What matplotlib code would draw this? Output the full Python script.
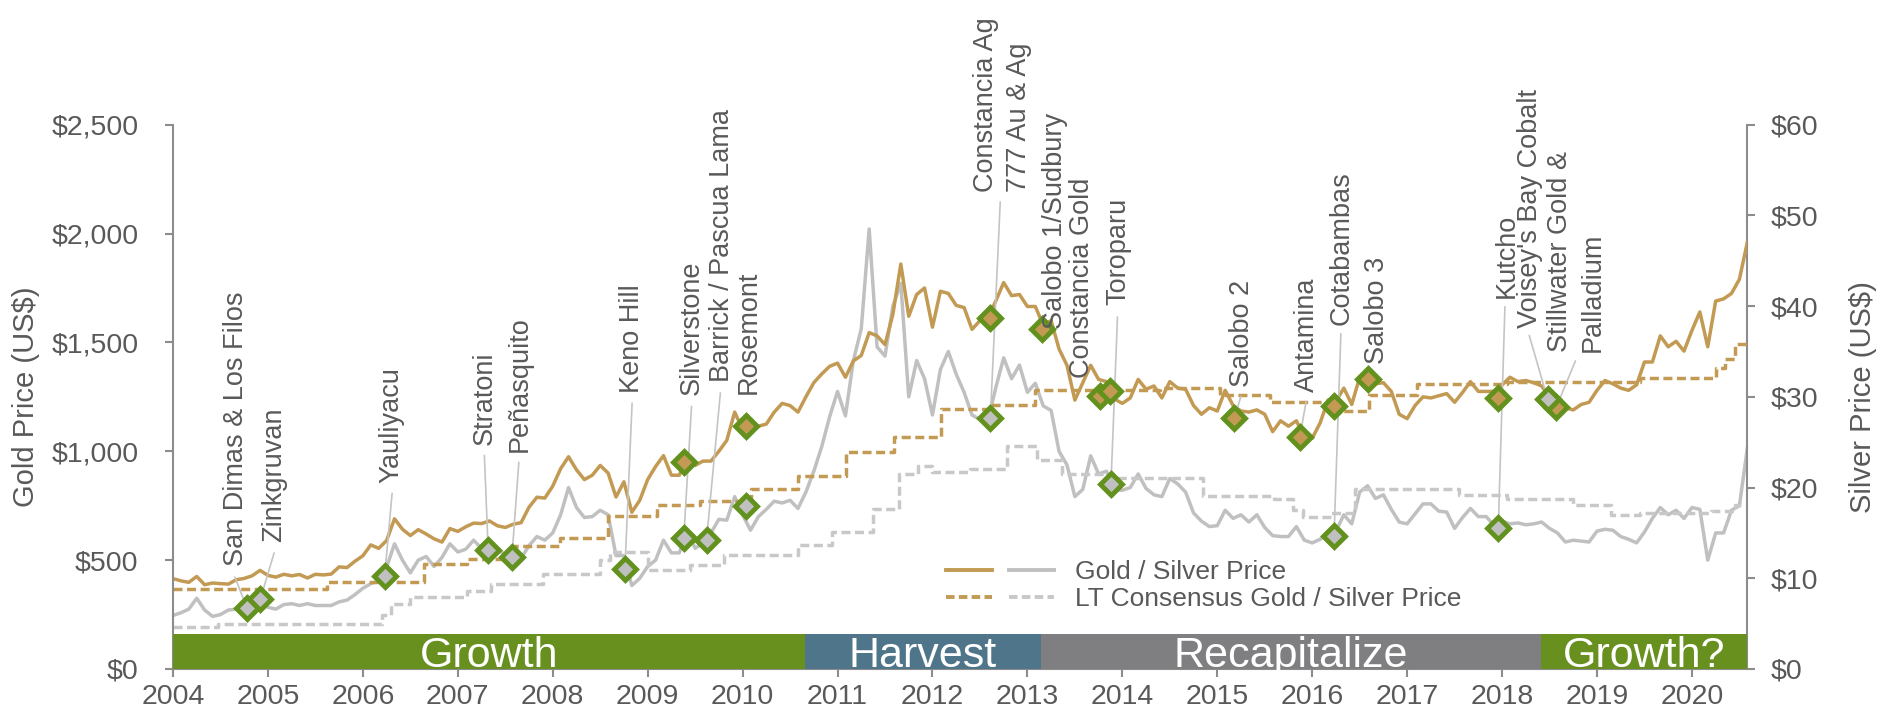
import numpy as np
import matplotlib
matplotlib.use("Agg")
import matplotlib.pyplot as plt
from matplotlib.lines import Line2D
from matplotlib.legend_handler import HandlerTuple

plt.rcParams['font.family'] = ['Liberation Sans', 'DejaVu Sans']

# monthly gold price (US$/oz), Jan 2004 .. Aug 2020
gold_price = [
    415, 405, 398, 425, 387, 395, 392, 390, 410, 416, 428, 453,
    430, 422, 435, 428, 434, 418, 435, 432, 436, 469, 466, 495,
    520, 570, 554, 590, 690, 642, 613, 640, 620, 598, 583, 645,
    632, 653, 670, 668, 680, 658, 650, 665, 672, 743, 789, 785,
    840, 920, 975, 915, 870, 890, 935, 900, 790, 860, 720, 775,
    870, 930, 980, 890, 890, 980, 935, 955, 955, 1000, 1050, 1180,
    1100, 1100, 1115, 1125, 1180, 1220, 1210, 1180, 1250, 1315, 1355, 1390,
    1405, 1340, 1415, 1440, 1545, 1530, 1490, 1630, 1860, 1620, 1720, 1750,
    1570, 1735, 1725, 1670, 1660, 1560, 1600, 1610, 1690, 1775, 1715, 1720,
    1665, 1665, 1580, 1600, 1470, 1395, 1235, 1315, 1395, 1330, 1320, 1240,
    1220, 1245, 1330, 1285, 1300, 1245, 1320, 1290, 1285, 1210, 1170, 1200,
    1185, 1280, 1210, 1185, 1180, 1190, 1170, 1090, 1140, 1115, 1140, 1065,
    1060, 1130, 1235, 1230, 1290, 1215, 1340, 1350, 1310, 1315, 1275, 1170,
    1150, 1210, 1250, 1245, 1255, 1265, 1225, 1270, 1320, 1275, 1275, 1275,
    1305, 1340, 1320, 1325, 1315, 1300, 1250, 1220, 1200, 1190, 1215, 1225,
    1280, 1325, 1310, 1290, 1280, 1305, 1410, 1410, 1530, 1480, 1505, 1460,
    1555, 1640, 1480, 1690, 1700, 1725, 1790, 1960,
]

# monthly silver price (US$/oz), Jan 2004 .. Aug 2020
silver_price = [
    5.9, 6.2, 6.6, 7.8, 6.5, 5.8, 6.0, 6.5, 6.6, 6.7, 7.2, 7.4,
    6.8, 6.6, 7.1, 7.2, 7.0, 7.2, 7.0, 7.0, 7.0, 7.4, 7.6, 8.2,
    8.9, 9.4, 9.7, 11.2, 13.8, 12.0, 10.6, 12.0, 12.4, 11.3, 12.3, 13.8,
    12.9, 13.2, 14.2, 13.3, 13.6, 13.2, 12.6, 13.2, 12.2, 13.6, 14.6, 14.2,
    15.0, 17.0, 20.0, 17.8, 16.7, 16.8, 17.5, 17.0, 12.5, 12.5, 9.2, 10.0,
    11.3, 12.0, 14.2, 12.8, 12.8, 15.4, 13.3, 13.9, 15.0, 16.5, 16.4, 19.0,
    17.0, 15.3, 16.8, 17.6, 18.5, 18.3, 18.6, 17.7, 19.5, 21.8, 24.5, 27.8,
    30.6, 27.9, 34.0, 37.5, 48.5, 35.5, 34.5, 40.0, 42.5, 30.0, 34.0, 32.0,
    28.0, 33.0, 35.0, 32.5, 30.5, 28.0, 27.5, 27.3, 31.0, 34.3, 32.0, 33.5,
    30.5, 31.5, 29.0, 28.5, 24.0, 22.5, 19.0, 19.8, 23.5, 21.5, 21.8, 19.8,
    19.7, 20.0, 21.5, 19.9, 19.2, 19.0, 21.0, 20.4, 19.5, 17.2, 16.3, 15.7,
    15.8, 17.5, 16.6, 17.0, 16.2, 17.0, 15.6, 14.7, 14.6, 14.6, 15.7, 14.2,
    13.9, 14.3, 14.9, 15.2, 17.0, 16.0, 19.5, 20.2, 18.8, 19.2, 17.6, 16.2,
    16.0, 17.1, 18.2, 18.2, 17.4, 17.3, 15.5, 16.7, 17.7, 16.8, 16.8, 15.8,
    16.3, 16.0, 16.1, 15.9, 16.0, 16.2, 15.5, 15.0, 14.0, 14.2, 14.1, 14.0,
    15.2, 15.4, 15.3, 14.6, 14.3, 13.9, 15.1, 16.6, 17.8, 17.0, 17.5, 16.6,
    17.8, 17.6, 12.0, 15.0, 15.0, 17.5, 18.0, 24.3,
]

months = 2004 + np.arange(len(gold_price)) / 12

# long-term consensus prices (step changes)
gold_lt_start = [2004.0, 2005.62, 2006.64, 2007.10, 2007.60, 2008.08, 2008.58, 2009.10,
                 2009.55, 2010.09, 2010.58, 2011.09, 2011.60, 2012.09, 2012.60, 2013.08,
                 2014.40, 2015.03, 2015.56, 2016.30, 2016.60, 2017.10, 2018.05, 2019.45,
                 2020.25, 2020.35, 2020.45, 2020.58]
gold_lt_value = [368, 398, 484, 507, 565, 603, 701, 752, 771, 828, 887, 997, 1066, 1193,
                 1212, 1283, 1291, 1260, 1226, 1185, 1260, 1307, 1318, 1337, 1384, 1424,
                 1493, 1493]

silver_lt_start = [2004.0, 2004.47, 2006.20, 2006.30, 2006.50, 2007.10, 2007.35, 2007.90,
                   2008.50, 2008.60, 2009.00, 2009.45, 2009.80, 2010.58, 2010.94, 2011.37,
                   2011.65, 2011.85, 2012.00, 2012.40, 2012.78, 2013.10, 2013.36, 2013.90,
                   2014.85, 2015.60, 2015.80, 2015.90, 2016.20, 2016.45, 2017.55, 2018.05,
                   2018.75, 2019.15, 2019.45, 2020.20, 2020.45, 2020.58]
silver_lt_value = [4.6, 5.0, 6.0, 7.2, 7.9, 8.6, 9.4, 10.5, 12.0, 12.9, 10.9, 11.5, 12.6,
                   13.7, 15.1, 17.6, 21.5, 22.4, 21.7, 22.0, 24.6, 23.0, 21.5, 21.0, 19.1,
                   18.7, 17.5, 16.8, 17.2, 19.8, 19.2, 18.7, 18.1, 17.0, 17.2, 17.4, 18.1,
                   18.1]

# stream deals
gold_deal_date = [2009.38, 2010.04, 2012.61, 2013.15, 2013.77, 2013.87, 2015.18, 2015.87,
                  2016.23, 2016.59, 2017.96, 2018.57]
gold_deal_price = [949, 1117, 1612, 1563, 1252, 1275, 1151, 1066, 1209, 1330, 1245, 1202]
silver_deal_date = [2004.78, 2004.92, 2006.23, 2007.32, 2007.57, 2008.76, 2009.38, 2009.62,
                    2010.04, 2012.61, 2013.88, 2016.23, 2017.96, 2018.48]
silver_deal_price = [6.70, 7.68, 10.30, 13.10, 12.34, 10.97, 14.40, 14.21, 17.95, 27.70,
                     20.35, 14.71, 15.53, 29.76]

deal_labels = ['San Dimas & Los Filos', 'Zinkgruvan', 'Yauliyacu', 'Stratoni', 'Peñasquito',
               'Keno Hill', 'Silverstone', 'Barrick / Pascua Lama', 'Rosemont',
               'Constancia Ag', '777 Au & Ag', 'Salobo 1/Sudbury', 'Constancia Gold',
               'Toroparu', 'Salobo 2', 'Antamina', 'Cotabambas', 'Salobo 3', 'Kutcho',
               "Voisey's Bay Cobalt", 'Stillwater Gold &', 'Palladium']
label_x = [2004.66, 2005.06, 2006.30, 2007.28, 2007.65, 2008.835, 2009.46, 2009.78, 2010.06,
           2012.56, 2012.91, 2013.295, 2013.575, 2013.96, 2015.26, 2015.945, 2016.31,
           2016.68, 2018.045, 2018.295, 2018.605, 2018.955]
label_y = [473, 583, 854, 1027, 997, 1268, 1258, 1320, 1265, 2191, 2191, 1562, 1337, 1672,
           1293, 1270, 1582, 1401, 1702, 1566, 1456, 1456]

# leader lines: top point (gold axis units) -> deal marker
leader_top_x = [2004.652, 2005.065, 2006.308, 2007.280, 2007.643, 2008.836, 2009.462,
                2009.766, 2012.714, 2013.949, 2015.249, 2015.936, 2016.302, 2018.030,
                2018.286, 2018.773]
leader_top_y = [422, 533, 807, 981, 949, 1221, 1206, 1268, 2145, 1617, 1252, 1229, 1540,
                1664, 1532, 1415]
leader_target = [('s', 0), ('s', 1), ('s', 2), ('s', 3), ('s', 4), ('s', 5), ('s', 6),
                 ('s', 7), ('s', 9), ('s', 10), ('g', 6), ('g', 7), ('s', 11), ('s', 12),
                 ('s', 13), ('g', 11)]

phases = ['Growth', 'Harvest', 'Recapitalize', 'Growth?']
phase_start = [2004.0, 2010.66, 2013.14, 2018.41]
phase_end = [2010.66, 2013.14, 2018.41, 2020.58]
phase_colors = ['#68901F', '#4E7589', '#7F7F82', '#68901F']

gold_c = '#C29A53'
silver_c = '#C0C0C0'
silver_lt_c = '#C8C8C8'
green = '#63911D'
text_c = '#595959'
axis_c = '#8C8C8C'

fig = plt.figure(figsize=(18.81, 7.18), dpi=100)
ax = fig.add_axes([0.09197, 0.06825, 0.83679, 0.75807])
ax2 = ax.twinx()
ax.set_zorder(ax2.get_zorder() + 1)
ax.patch.set_visible(False)

ax2.plot(months, silver_price, color=silver_c, lw=2.5)
ax2.plot(silver_lt_start, silver_lt_value, drawstyle='steps-post', color=silver_lt_c,
         lw=2.5, dashes=(2.6, 1.3))
ax.plot(months, gold_price, color=gold_c, lw=2.5)
ax.plot(gold_lt_start, gold_lt_value, drawstyle='steps-post', color=gold_c,
        lw=2.5, dashes=(2.6, 1.3))

# phase bands
for name, s, e, c in zip(phases, phase_start, phase_end, phase_colors):
    ax.bar(s, 160, width=e - s, align='edge', color=c, linewidth=0, zorder=3)
    ax.text((s + e) / 2, 10, name, color='white', fontsize=31, ha='center',
            va='baseline', zorder=4)

# leader lines
for tx, ty, (kind, i) in zip(leader_top_x, leader_top_y, leader_target):
    if kind == 's':
        xy = (silver_deal_date[i], silver_deal_price[i])
        xyc = ax2.transData
    else:
        xy = (gold_deal_date[i], gold_deal_price[i])
        xyc = 'data'
    ax.annotate('', xy=xy, xycoords=xyc, xytext=(tx, ty), textcoords='data',
                arrowprops=dict(arrowstyle='-', color='#C4C4C4', lw=1.2,
                                shrinkA=0, shrinkB=0), zorder=5)

# deal markers
ax.plot(gold_deal_date, gold_deal_price, ls='none', marker='D', ms=11, mfc=gold_c,
        mec=green, mew=3.5, zorder=6)
ax.plot(silver_deal_date, silver_deal_price, ls='none', marker='D', ms=11, mfc=silver_c,
        mec=green, mew=3.5, zorder=6, transform=ax2.transData)

for lbl, x, y in zip(deal_labels, label_x, label_y):
    ax.text(x, y, lbl, rotation=90, ha='center', va='bottom', fontsize=19.5,
            color=text_c, zorder=7)

# axes
ax.set_xlim(2004, 2020.58)
ax.set_ylim(0, 2500)
ax2.set_ylim(0, 60)
ax.set_xticks(range(2004, 2021))
ax.set_xticklabels([str(y) for y in range(2004, 2021)])
ax.set_yticks(range(0, 2501, 500))
ax.set_yticklabels([f'${v:,}' for v in range(0, 2501, 500)])
ax2.set_yticks(range(0, 61, 10))
ax2.set_yticklabels([f'${v}' for v in range(0, 61, 10)])

for a in (ax, ax2):
    for sp in a.spines.values():
        sp.set_color(axis_c)
        sp.set_linewidth(1.5)
    a.spines['top'].set_visible(False)
ax.spines['right'].set_visible(False)
ax2.spines['left'].set_visible(False)
ax2.spines['bottom'].set_visible(False)

ax.tick_params(axis='y', direction='out', length=6, width=1.5, color=axis_c,
               labelsize=20.5, labelcolor=text_c, pad=19)
ax.tick_params(axis='x', direction='out', length=6, width=1.5, color=axis_c,
               labelsize=20.5, labelcolor=text_c, pad=5)
ax2.tick_params(axis='y', direction='out', length=6, width=1.5, color=axis_c,
                labelsize=20.5, labelcolor=text_c, pad=11)

ax.set_ylabel('Gold Price (US$)', fontsize=21, color=text_c)
ax.yaxis.set_label_coords(-0.0842, 0.5)
ax2.set_ylabel('Silver Price (US$)', fontsize=21, color=text_c)
ax2.yaxis.set_label_coords(1.0651, 0.5)

# legend
g_solid = Line2D([], [], color=gold_c, lw=2.8)
s_solid = Line2D([], [], color=silver_c, lw=2.8)
g_dash = Line2D([], [], color=gold_c, lw=2.8, dashes=(2.2, 1.1))
s_dash = Line2D([], [], color=silver_lt_c, lw=2.8, dashes=(2.2, 1.1))
ax.legend([(g_solid, s_solid), (g_dash, s_dash)],
          ['Gold / Silver Price', 'LT Consensus Gold / Silver Price'],
          handler_map={tuple: HandlerTuple(ndivide=None, pad=0.64)},
          handlelength=4.1, handletextpad=0.8, labelspacing=0.1, frameon=False,
          fontsize=19, labelcolor=text_c, loc='center left',
          bbox_to_anchor=(0.4904, 0.1846), bbox_transform=fig.transFigure)

fig.savefig('out.png', dpi=100)
